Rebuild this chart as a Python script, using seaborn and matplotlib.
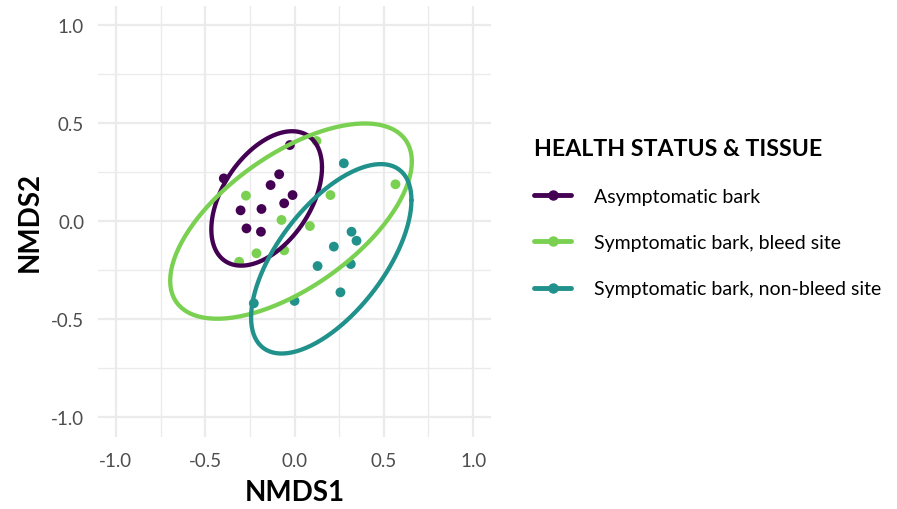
import numpy as np
import pandas as pd
import matplotlib
matplotlib.use("Agg")
import matplotlib.pyplot as plt
from matplotlib.lines import Line2D
import seaborn as sns

# NMDS ordination scores per sample
groups = ["Asymptomatic bark", "Symptomatic bark, bleed site", "Symptomatic bark, non-bleed site"]

asym_x = [-0.396, -0.026, -0.086, -0.134, -0.011, -0.058, -0.302, -0.185, -0.269, -0.188]
asym_y = [0.219, 0.389, 0.240, 0.185, 0.134, 0.092, 0.056, 0.063, -0.036, -0.053]

bleed_x = [0.123, -0.272, -0.073, 0.086, 0.201, 0.565, -0.213, -0.058, -0.310]
bleed_y = [0.410, 0.131, 0.007, -0.024, 0.134, 0.189, -0.163, -0.148, -0.206]

nonbleed_x = [0.276, 0.319, 0.347, 0.220, 0.129, 0.315, 0.257, -0.228, 0.000]
nonbleed_y = [0.296, -0.053, -0.099, -0.129, -0.228, -0.218, -0.362, -0.418, -0.406]

palette = {
    "Asymptomatic bark": "#440154",
    "Symptomatic bark, bleed site": "#7AD151",
    "Symptomatic bark, non-bleed site": "#21918C",
}

xs = [asym_x, bleed_x, nonbleed_x]
ys = [asym_y, bleed_y, nonbleed_y]
df = pd.concat(
    [pd.DataFrame({"NMDS1": x, "NMDS2": y, "group": g}) for g, x, y in zip(groups, xs, ys)],
    ignore_index=True,
)


def cov_trob(X, nu=5, maxit=25, tol=0.01):
    """Multivariate-t robust location/scatter (as in MASS::cov.trob)."""
    n, p = X.shape
    wt = np.ones(n)
    loc = X.mean(axis=0)
    w = np.sqrt(wt)
    for _ in range(maxit):
        w0 = w
        Xc = X - loc
        _, d, vt = np.linalg.svd(np.sqrt(w / w.sum())[:, None] * Xc, full_matrices=False)
        wX = Xc @ vt.T @ np.diag(1.0 / d)
        Q = (wX ** 2).sum(axis=1)
        w = wt * (nu + p) / (nu + Q)
        loc = (w[:, None] * X).sum(axis=0) / w.sum()
        if np.all(np.abs(w - w0) < tol):
            break
    Xc = X - loc
    cov = (np.sqrt(w)[:, None] * Xc).T @ (np.sqrt(w)[:, None] * Xc) / wt.sum()
    return loc, cov


def ellipse_path(X, level=0.95, segments=100):
    n = X.shape[0]
    loc, cov = cov_trob(X)
    dfd = n - 1
    # F(2, dfd) quantile in closed form
    qf = dfd / 2.0 * ((1 - level) ** (-2.0 / dfd) - 1)
    radius = np.sqrt(2 * qf)
    t = np.linspace(0, 2 * np.pi, segments + 1)
    unit = np.column_stack([np.cos(t), np.sin(t)])
    chol = np.linalg.cholesky(cov).T
    return loc + radius * unit @ chol


ell_frames = []
for g, x, y in zip(groups, xs, ys):
    pts = ellipse_path(np.column_stack([x, y]))
    ell_frames.append(pd.DataFrame({"NMDS1": pts[:, 0], "NMDS2": pts[:, 1], "group": g,
                                    "order": np.arange(len(pts))}))
ell = pd.concat(ell_frames, ignore_index=True)

sns.set_theme(style="whitegrid")
plt.rcParams["font.family"] = ["Lato", "DejaVu Sans"]

fig = plt.figure(figsize=(8.97, 5.10), dpi=100)
ax = fig.add_axes([0.1093, 0.1412, 0.4381, 0.8457])

for g in groups:
    sub = ell[ell["group"] == g]
    ax.plot(sub["NMDS1"], sub["NMDS2"], color=palette[g], lw=3.1, solid_capstyle="round", zorder=3)

sns.scatterplot(data=df, x="NMDS1", y="NMDS2", hue="group", palette=palette,
                s=50, edgecolor="none", linewidth=0, legend=False, ax=ax, zorder=2)

ax.set_xlim(-1.1, 1.1)
ax.set_ylim(-1.1, 1.1)
ticks = [-1.0, -0.5, 0.0, 0.5, 1.0]
ax.set_xticks(ticks)
ax.set_yticks(ticks)
ax.set_xticklabels([f"{t:.1f}" for t in ticks])
ax.set_yticklabels([f"{t:.1f}" for t in ticks])
ax.set_xticks([-0.75, -0.25, 0.25, 0.75], minor=True)
ax.set_yticks([-0.75, -0.25, 0.25, 0.75], minor=True)
ax.grid(which="major", color="#EBEBEB", lw=1.6)
ax.grid(which="minor", color="#EBEBEB", lw=1.0)
ax.set_facecolor("white")
for s in ax.spines.values():
    s.set_visible(False)
ax.tick_params(axis="both", which="both", length=0, labelsize=13.5, colors="#4D4D4D")
ax.tick_params(axis="x", pad=11)
ax.tick_params(axis="y", pad=10)
ax.set_xlabel("NMDS1", fontsize=20, fontweight="bold", color="black", labelpad=7)
ax.set_ylabel("NMDS2", fontsize=20, fontweight="bold", color="black", labelpad=6)

handles = [Line2D([0], [0], color=palette[g], lw=3.5, marker="o", markersize=6.5) for g in groups]
leg = fig.legend(handles, groups, title="HEALTH STATUS & TISSUE", loc="upper left",
                 bbox_to_anchor=(0.576, 0.762), frameon=False, fontsize=14,
                 title_fontproperties={"weight": "bold", "size": 16.7},
                 handlelength=1.9, handletextpad=1.2, labelspacing=1.5)
leg._legend_box.align = "left"
leg.get_title().set_color("black")
for txt in leg.get_texts():
    txt.set_color("black")

fig.savefig("out.png", dpi=100)
